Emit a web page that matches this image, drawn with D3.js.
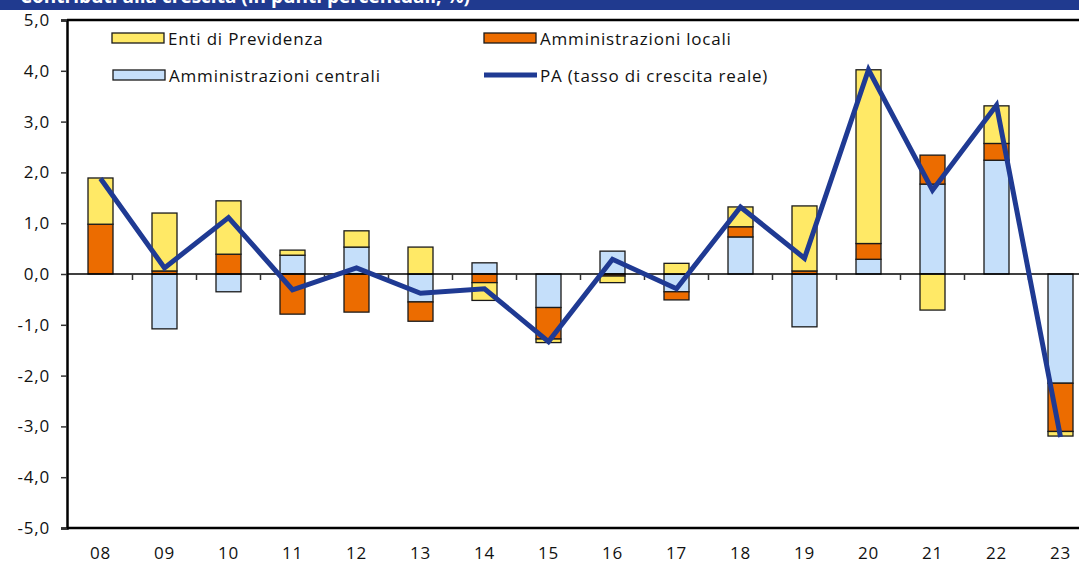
<!DOCTYPE html>
<html><head><meta charset="utf-8">
<script src="https://cdn.jsdelivr.net/npm/d3@7"></script>
<style>
html,body{margin:0;padding:0;background:#fff;}
svg{display:block;font-family:"Open Sans",Lato,sans-serif;}
</style></head>
<body><svg id="c" width="1079" height="566"></svg>
<script>
const years = ["08","09","10","11","12","13","14","15","16","17","18","19","20","21","22","23"];
const centrali   = [0, -1.08, -0.35, 0.37, 0.53, -0.55, 0.22, -0.66, 0.45, -0.35, 0.73, -1.04, 0.29, 1.77, 2.24, -2.15];
const locali     = [0.98, 0.06, 0.39, -0.79, -0.75, -0.38, -0.17, -0.62, -0.04, -0.16, 0.20, 0.06, 0.31, 0.57, 0.33, -0.95];
const previdenza = [0.91, 1.14, 1.05, 0.10, 0.32, 0.53, -0.35, -0.07, -0.13, 0.21, 0.39, 1.28, 3.42, -0.71, 0.74, -0.09];
const pa         = [1.88, 0.12, 1.11, -0.31, 0.12, -0.38, -0.29, -1.33, 0.29, -0.29, 1.32, 0.31, 4.02, 1.65, 3.32, -3.21];
const yTicks = [-5,-4,-3,-2,-1,0,1,2,3,4,5];
const seriesNames = ["Amministrazioni centrali","Amministrazioni locali","Enti di Previdenza"];
const lineName = "PA (tasso di crescita reale)";
const titleText = "Contributi alla crescita (in punti percentuali; %)";
const colors = {"Amministrazioni centrali":"#C5DFFA","Amministrazioni locali":"#EC6C00","Enti di Previdenza":"#FFE966"};
const lineColor = "#1F3A93";

(function(){
const svg = d3.select("#c");
const W = 1079;
const axisX = 67, plotTop = 20, plotBottom = 528;
const FONT = "'Open Sans',Lato,sans-serif", FS = 17, LS = 0.8;

const x = d3.scaleBand().domain(years).range([68.5, 68.5 + 64*years.length]).paddingInner(0.6).paddingOuter(0.3);
const y = d3.scaleLinear().domain([-5,5]).range([plotBottom, plotTop]);
const locale = d3.formatLocale({decimal:",", thousands:".", grouping:[3], currency:["€",""], minus:"-"});
const fmt = locale.format(".1f");

// header bar (title mostly cut off above the visible area)
svg.append("rect").attr("x",0).attr("y",0).attr("width",W).attr("height",10).attr("fill","#203A8F");
svg.append("text").attr("x",20).attr("y",3).attr("fill","#fff")
  .attr("font-size",19).attr("font-weight","bold").attr("font-family",FONT).text(titleText);

// stack
const table = years.map((yr,i)=>({year:yr,"Amministrazioni centrali":centrali[i],"Amministrazioni locali":locali[i],"Enti di Previdenza":previdenza[i]}));
const stack = d3.stack().keys(seriesNames).offset(d3.stackOffsetDiverging)(table);

const bw = 25;
const g = svg.append("g");
stack.forEach(s=>{
  g.selectAll(null).data(s).enter().append("rect")
    .attr("x", d=> x(d.data.year) + x.bandwidth()/2 - bw/2)
    .attr("width", bw)
    .attr("y", d=> y(Math.max(d[0],d[1])))
    .attr("height", d=> Math.abs(y(d[0]) - y(d[1])))
    .attr("fill", colors[s.key])
    .attr("stroke","#1a1a1a").attr("stroke-width",1.3);
});

// zero line with ticks
svg.append("line").attr("x1",axisX).attr("x2",W).attr("y1",y(0)).attr("y2",y(0)).attr("stroke","#000").attr("stroke-width",1.5);
const step = x.step();
years.forEach((yr,i)=>{
  if(i===0) return;
  const bx = x(yr) + x.bandwidth()/2 - step/2;
  svg.append("line").attr("x1",bx).attr("x2",bx).attr("y1",y(0)).attr("y2",y(0)+6).attr("stroke","#333").attr("stroke-width",1.5);
});

// frame
svg.append("line").attr("x1",axisX).attr("x2",W).attr("y1",plotTop).attr("y2",plotTop).attr("stroke","#000").attr("stroke-width",2.5);
svg.append("line").attr("x1",axisX).attr("x2",W).attr("y1",plotBottom).attr("y2",plotBottom).attr("stroke","#000").attr("stroke-width",2.5);

// y axis
const yAxis = d3.axisLeft(y).tickValues(yTicks).tickFormat(fmt).tickSize(6).tickPadding(11);
const ya = svg.append("g").attr("transform",`translate(${axisX},0)`).call(yAxis);
ya.select(".domain").attr("stroke","#000").attr("stroke-width",2.5);
ya.selectAll(".tick line").attr("stroke","#333").attr("stroke-width",1.5);
ya.selectAll(".tick text").attr("font-size",FS).attr("letter-spacing",LS).attr("fill","#111").attr("font-family",FONT);

// x labels
const xAxis = d3.axisBottom(x).tickSize(0).tickPadding(0);
const xa = svg.append("g").attr("transform",`translate(0,${plotBottom})`).call(xAxis);
xa.select(".domain").remove();
xa.selectAll(".tick text").attr("font-size",FS).attr("letter-spacing",LS).attr("fill","#111").attr("dy",0).attr("y",31).attr("font-family",FONT);

// line
const line = d3.line().x((d,i)=> x(years[i]) + x.bandwidth()/2).y(d=>y(d));
svg.append("path").datum(pa).attr("d",line).attr("fill","none").attr("stroke",lineColor).attr("stroke-width",5).attr("stroke-linejoin","miter");

// legend
const leg = svg.append("g").attr("font-size",FS).attr("letter-spacing",LS).attr("fill","#111").attr("font-family",FONT);
const legItems = [
  {name:"Enti di Previdenza", x:112, y:33, type:"rect"},
  {name:"Amministrazioni locali", x:484, y:33, type:"rect"},
  {name:"Amministrazioni centrali", x:113, y:70, type:"rect"},
  {name:lineName, x:484, y:70, type:"line"}
];
legItems.forEach(it=>{
  if(it.type==="rect"){
    leg.append("rect").attr("x",it.x).attr("y",it.y).attr("width",52).attr("height",10)
      .attr("fill",colors[it.name]).attr("stroke","#1a1a1a").attr("stroke-width",1.3);
  } else {
    leg.append("line").attr("x1",it.x).attr("x2",it.x+53).attr("y1",it.y+5).attr("y2",it.y+5)
      .attr("stroke",lineColor).attr("stroke-width",5);
  }
  leg.append("text").attr("x",it.x+56).attr("y",it.y+12).text(it.name);
});
})();
</script></body></html>
